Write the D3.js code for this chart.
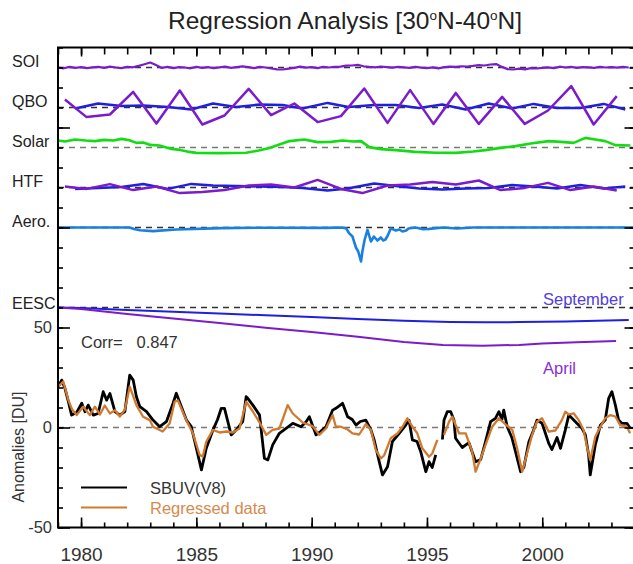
<!DOCTYPE html>
<html>
<head>
<meta charset="utf-8">
<script src="https://cdn.jsdelivr.net/npm/d3@7"></script>
<style>
body { margin: 0; background: #fff; }
text { font-family: "Liberation Sans", Arial, Helvetica, sans-serif; }
</style>
</head>
<body>
<svg id="chart" width="633" height="564"></svg>
<script>
// fitted terms are stored as deviations from their panel baseline (DU)
const soiStart = 1979, soiStep = 0.25;
const soiValues = [
  0, -0.4, 0.3, -0.2,   0.2, -0.3, 0.1, 0.3,   -0.2, 0.4, 0, -0.3,   0.3, 0.1, 0.8, 1.6,
  2.5, 1.2, -0.2, 0.3,  -0.3, 0.2, 0, -0.4,    0.3, -0.2, 0.2, -0.3,  0.1, 0.4, -0.2, 0.2,
  0.6, 0.2, -0.3, 0.3,  0, -0.5, -0.9, -1.0,   -0.6, -0.2, 0.4, -0.1, 0.2, -0.3, 0.3, 0,
  0.3, 0.4, 0.9, 1.0,   1.3, 0.6, 0.3, 0.1,    0.5, 0.2, -0.1, 0.3,   0.1, -0.2, 0.3, -0.1,
  -0.3, 0.1, -0.4, 0.2, 0.4, 0.3, 0.6, 0.5,    0.8, 1.2, 1.0, 1.5,    1.7, 0.3, -0.8, -1.0,
  -0.6, -0.9, -0.3, -0.5, -0.2, 0.1, -0.3, 0.4, 0, 0.3, -0.2, 0.2,   0.1, -0.2, 0.3, 0,
  0.2, -0.1, 0.3, 0
];

const qboApr = [[1979.3,4],[1980.24,-4.8],[1981.25,-3.5],[1982.26,7.8],[1983.27,-8],[1984.28,8.5],
  [1985.26,-8.5],[1986.22,-4],[1987.27,9.3],[1988.24,-3.8],[1989.25,2],[1990.26,-7.3],[1991.27,-4.3],
  [1992.28,9.5],[1993.29,-7.7],[1994.27,8.7],[1995.28,-8.2],[1996.25,7.3],[1997.25,-8.2],[1998.26,5.3],
  [1999.24,-8.2],[2000.25,-1.5],[2001.26,10.7],[2002.23,-8.5],[2003.23,5.7]];
const qboSep = [[1979.74,-0.5],[1980.74,2],[1981.75,0.7],[1982.7,1],[1983.77,0.3],[1984.78,-1],
  [1985.72,2],[1986.73,0.2],[1987.74,1.5],[1988.74,1.2],[1989.6,-0.5],[1990.69,2.3],[1991.6,0.2],
  [1992.71,1.2],[1993.65,1.2],[1994.66,-0.2],[1995.66,1.5],[1996.68,-1],[1997.68,2],[1998.69,-0.5],
  [1999.63,1.8],[2000.64,-0.2],[2001.65,-0.2],[2002.66,1.8],[2003.6,-1]];

const solar = [[1979.0,3.5],[1979.3,3.0],[1979.74,4],[1980.2,3.5],[1980.6,3.2],[1981.0,3.8],[1981.4,3.5],
  [1981.76,4.3],[1982.1,3.6],[1982.4,2.3],[1982.7,2.5],[1983.0,1.3],[1983.4,1.0],[1983.92,-0.7],
  [1984.3,-1.2],[1984.7,-2.2],[1985.0,-2.7],[1986.0,-2.8],[1987.16,-2.6],[1987.7,-1.5],[1988.17,-0.2],
  [1988.6,1.5],[1989.04,3.2],[1989.68,4],[1990.26,2.7],[1990.84,2.8],[1991.34,3.5],[1991.8,3.0],
  [1992.14,3.2],[1992.5,0.2],[1993.0,-0.8],[1993.65,-1.3],[1994.5,-2.2],[1995.4,-2.6],[1996.25,-2.7],
  [1997.0,-2.0],[1997.54,-1.3],[1998.2,-0.2],[1998.84,0.7],[1999.5,2.0],[2000.28,3.2],[2000.8,2.8],
  [2001.36,2.3],[2001.87,4.8],[2002.3,4.0],[2002.73,3.2],[2003.17,1.2],[2003.82,1.0]];

const htfApr = [[1979.3,0.5],[1980.24,-0.7],[1981.25,1.7],[1982.26,-1.3],[1983.27,0.5],[1984.28,-2.8],
  [1985.26,-2.2],[1986.22,-1.3],[1987.27,1],[1988.24,1.5],[1989.25,0],[1990.26,3.8],[1991.27,-0.7],
  [1992.2,-2.8],[1993.29,1],[1994.27,1.5],[1995.23,2.7],[1996.25,1.5],[1997.25,3.5],[1998.19,-1.3],
  [1999.24,-0.2],[2000.25,2.3],[2001.22,-1.3],[2002.23,0.5],[2003.23,-1.5]];
const htfSep = [[1979.74,-0.7],[1980.74,-0.2],[1981.75,0.3],[1982.7,1.8],[1983.77,-0.7],[1984.78,1.8],
  [1985.72,1],[1986.73,0.8],[1987.74,0.5],[1988.74,0.3],[1989.6,-0.3],[1990.69,-1.5],[1991.56,-0.5],
  [1992.71,2],[1993.65,0.8],[1994.66,-0.5],[1995.66,-1],[1996.68,-0.5],[1997.68,-0.2],[1998.69,1.3],
  [1999.63,0.5],[2000.64,-0.5],[2001.65,1.3],[2002.66,-0.5],[2003.6,0.5]];

const aerosol = [[1979.0,0],[1982.1,0],[1982.3,-0.8],[1982.55,-1.4],[1983.12,-1.8],[1984.13,-1.0],
  [1986.1,-0.3],[1988.0,-0.1],[1990.6,-0.2],[1991.33,0],[1991.5,-0.5],[1991.62,-2.8],[1991.77,-4.5],
  [1991.92,-10],[1992.02,-12],[1992.14,-17],[1992.2,-12],[1992.3,-6],[1992.42,-1.2],[1992.57,-7],
  [1992.7,-4.5],[1992.85,-6.5],[1993.0,-5],[1993.1,-6.5],[1993.2,-6],[1993.3,-4],[1993.43,-0.5],
  [1993.55,-1],[1993.65,-1.5],[1993.8,-1],[1993.94,-2],[1994.1,-1.5],[1994.2,-0.5],[1994.5,0],
  [1994.8,-0.8],[1995.1,-0.7],[1995.4,-0.3],[1995.7,0],[1996.3,-0.5],[1997.0,0],[2004,0]];

const eescSep = [[1979.0,0],[1980,-0.3],[1982,-1.2],[1984,-2.1],[1986,-3.0],[1988,-3.9],[1990,-4.8],
  [1992,-5.8],[1994,-6.6],[1996,-7.2],[1997.5,-7.4],[1999,-7.3],[2001,-7.0],[2003.75,-6.3]];
const eescApr = [[1979.0,0],[1980,-0.8],[1982,-3.2],[1984,-5.5],[1986,-7.8],[1988,-10.1],[1990,-12.3],
  [1992,-14.6],[1994,-17.3],[1995.7,-18.7],[1997.4,-19.1],[1999,-18.7],[2000,-18.0],[2001.5,-17.4],
  [2003.2,-16.75]];

// total ozone anomalies (DU); null marks the data gap in 1995
const sbuv = [[1979.01,20.4],[1979.16,23.7],[1979.30,19.6],[1979.45,12.9],[1979.59,6.2],[1979.81,7.5],
  [1980.03,12.1],[1980.17,7.9],[1980.31,11.2],[1980.53,6.2],[1980.74,7],[1980.96,17.9],[1981.11,13.7],
  [1981.25,17],[1981.47,7.9],[1981.68,6.2],[1981.90,8],[1982.11,26.2],[1982.26,23.7],[1982.40,15.4],
  [1982.55,10.4],[1982.84,7.9],[1983.12,3.7],[1983.41,0.4],[1983.70,2.9],[1983.99,12.1],[1984.13,17.1],
  [1984.35,10.4],[1984.57,3.7],[1984.78,0.4],[1985.00,-10.4],[1985.22,-21.2],[1985.43,-10.4],
  [1985.72,-1.2],[1985.92,4],[1986.08,9.6],[1986.22,9.6],[1986.51,-3.7],[1986.74,-1],[1987.01,2.9],
  [1987.16,15.4],[1987.23,14.6],[1987.45,11.2],[1987.74,6.2],[1987.95,-15.4],[1988.10,-16.2],
  [1988.31,-8.7],[1988.60,-2.9],[1988.89,-0.4],[1989.18,2.1],[1989.54,0.4],[1989.76,2.9],[1989.90,5.4],
  [1990.19,-3.7],[1990.38,-2],[1990.62,0.4],[1990.91,8.7],[1991.05,9.6],[1991.34,12.1],[1991.56,5.4],
  [1991.76,4],[1991.92,1.2],[1992.11,3],[1992.35,3.7],[1992.57,-1.2],[1992.71,-6.2],[1992.93,-17.1],
  [1993.07,-23.7],[1993.29,-19.6],[1993.50,-7.1],[1993.79,-3],[1994.08,1.2],[1994.22,3.7],[1994.37,-6.2],
  [1994.57,-7],[1994.73,-12.1],[1994.95,-22.1],[1995.09,-17.1],[1995.23,-20],[1995.38,-13.7],
  [1995.55,null],[1995.67,-6],[1995.74,3.7],[1995.88,7.9],[1996.03,7.9],[1996.17,3.7],[1996.24,-5.4],
  [1996.53,-10],[1996.82,-7.6],[1997.11,-17.1],[1997.33,-16],[1997.54,-7.1],[1997.76,2.9],[1997.97,4.6],
  [1998.12,7.9],[1998.25,4],[1998.33,8.7],[1998.48,0.4],[1998.68,-5],[1998.84,-12.1],[1999.06,-22.1],
  [1999.20,-20],[1999.42,-7.1],[1999.63,-1.2],[1999.77,3.7],[1999.99,2.1],[2000.28,-7.9],[2000.42,-11],
  [2000.64,-5],[2000.79,-10.4],[2001.00,-1.2],[2001.15,6.2],[2001.29,4.6],[2001.50,2.1],[2001.72,-0.4],
  [2001.87,-3.7],[2002.01,-13.7],[2002.08,-23.7],[2002.30,-8.7],[2002.52,1.2],[2002.73,3.7],
  [2002.88,14.6],[2003.02,17.9],[2003.17,11.2],[2003.31,3.7],[2003.45,2.1],[2003.67,2.1],[2003.81,-0.4]];
const regressed = [[1979.01,20.4],[1979.23,23],[1979.45,13.7],[1979.61,9],[1979.81,6.2],[1980.09,10.4],
  [1980.38,6.2],[1980.60,10.4],[1980.82,6.5],[1981.03,11],[1981.25,7],[1981.47,8.7],[1981.68,5.5],
  [1981.90,9],[1982.11,20.4],[1982.40,11.2],[1982.69,5.4],[1982.98,3.7],[1983.12,0.4],[1983.54,-2],
  [1983.84,2],[1984.06,12.9],[1984.20,13.5],[1984.35,9.5],[1984.57,3.5],[1984.85,-2.9],[1985.14,-13.7],
  [1985.28,-14.5],[1985.43,-7.1],[1985.72,-1.2],[1986.01,-2.5],[1986.30,-2],[1986.58,-2.5],
  [1986.87,-0.5],[1987.16,12.9],[1987.45,8],[1987.74,2.5],[1988.03,-3.7],[1988.31,-1.2],[1988.60,-0.5],
  [1988.96,11.2],[1989.18,7],[1989.61,2.5],[1990.04,0.7],[1990.33,-3.7],[1990.62,-0.5],[1990.91,6.2],
  [1991.05,0.4],[1991.27,0.4],[1991.56,-1],[1991.77,-2.9],[1992.06,-3.5],[1992.35,1.7],[1992.57,-1.2],
  [1992.78,-11.2],[1993.00,-15.4],[1993.14,-14],[1993.43,-5.4],[1993.72,-3],[1993.94,0.4],[1994.15,4.6],
  [1994.37,0.4],[1994.58,-2.9],[1994.80,-10.4],[1995.09,-14.6],[1995.23,-13],[1995.45,-6.2],
  [1995.6,null],[1995.74,-3.7],[1995.96,2.9],[1996.10,5.4],[1996.39,-2.9],[1996.68,-2.9],[1996.96,-12.1],
  [1997.11,-22.1],[1997.33,-15.5],[1997.54,-8.7],[1997.83,0.4],[1998.12,4.6],[1998.41,1.5],
  [1998.70,-1.2],[1998.91,-10.4],[1999.13,-22.1],[1999.34,-13],[1999.56,-3.7],[1999.77,2.9],
  [1999.99,4.6],[2000.28,-2.1],[2000.57,-1.5],[2000.85,3.7],[2001.00,7.9],[2001.15,6.5],[2001.36,7.1],
  [2001.58,3.7],[2001.79,-1.2],[2001.94,-9.6],[2002.08,-16.2],[2002.30,-4.6],[2002.52,0.4],
  [2002.73,4.6],[2002.95,6.2],[2003.17,5.5],[2003.38,1.2],[2003.67,0.4],[2003.81,-2.9]];

const panelNames = ['SOI', 'QBO', 'Solar', 'HTF', 'Aero.', 'EESC'];
const panelBase = [180, 160, 140, 120, 100, 60];
const corrValue = 0.847;
const yearTicks = [1980, 1985, 1990, 1995, 2000];
const duTicks = [-50, 0, 50];

const svg = d3.select('#chart');
const plotLeft = 58, plotRight = 634.5, plotTop = 47.5, plotBottom = 527.5;
const x = d3.scaleLinear().domain([1979, 2004]).range([plotLeft, plotRight]);
const y = d3.scaleLinear().domain([-50, 190]).range([plotBottom, plotTop]);

const purple = '#7a1ccc', blue = '#1f1fe0', green = '#12dc12', aeroBlue = '#1a80e0', orange = '#cf7a30';

svg.append('defs').append('clipPath').attr('id', 'plotclip')
  .append('rect').attr('x', plotLeft).attr('y', plotTop)
  .attr('width', plotRight - plotLeft).attr('height', plotBottom - plotTop);

const plot = svg.append('g').attr('clip-path', 'url(#plotclip)');

// dashed baselines
plot.selectAll('line.base')
  .data(panelBase.concat([0]))
  .enter().append('line')
  .attr('class', 'base')
  .attr('x1', plotLeft).attr('x2', plotRight)
  .attr('y1', d => y(d)).attr('y2', d => y(d))
  .attr('stroke', d => d === 0 || d === 140 ? '#777' : '#333')
  .attr('stroke-width', 1.3)
  .attr('stroke-dasharray', '6,5');

function drawSeries(pairs, base, color, width) {
  const line = d3.line()
    .defined(d => d[1] != null)
    .x(d => x(d[0]))
    .y(d => y(base + d[1]));
  plot.append('path')
    .datum(pairs)
    .attr('d', line)
    .attr('fill', 'none')
    .attr('stroke', color)
    .attr('stroke-width', width)
    .attr('stroke-linejoin', 'round');
}

const soiPairs = soiValues.map((v, i) => [soiStart + i * soiStep, v]);
drawSeries(soiPairs, panelBase[0], purple, 2.2);
drawSeries(qboSep, panelBase[1], blue, 2.5);
drawSeries(qboApr, panelBase[1], purple, 2.5);
drawSeries(solar, panelBase[2], green, 2.6);
drawSeries(htfSep, panelBase[3], blue, 2.5);
drawSeries(htfApr, panelBase[3], purple, 2.5);
drawSeries(aerosol, panelBase[4], aeroBlue, 2.6);
drawSeries(eescSep, panelBase[5], blue, 2);
drawSeries(eescApr, panelBase[5], purple, 2);
drawSeries(sbuv, 0, '#000', 2.8);
drawSeries(regressed, 0, orange, 2.3);

// axes: minor and major ticks pointing inward
function styleAxis(g) {
  g.select('.domain').remove();
  g.selectAll('line').attr('stroke', '#000').attr('stroke-width', 1.6);
  g.selectAll('text').attr('fill', '#333').attr('font-family', '"Liberation Sans", Arial, sans-serif');
}
const minorYears = d3.range(1979, 2005);
const minorDU = d3.range(-50, 191, 10);
const majorDU = d3.range(-50, 191, 50);

svg.append('g').attr('transform', `translate(0,${plotBottom})`)
  .call(d3.axisBottom(x).tickValues(minorYears).tickSizeInner(-5).tickSizeOuter(0).tickFormat(''))
  .call(styleAxis);
svg.append('g').attr('transform', `translate(0,${plotBottom})`)
  .call(d3.axisBottom(x).tickValues(yearTicks).tickSizeInner(-10).tickSizeOuter(0).tickPadding(20).tickFormat(d3.format('d')))
  .call(styleAxis)
  .selectAll('text').attr('font-size', 19);

svg.append('g').attr('transform', `translate(0,${plotTop})`)
  .call(d3.axisTop(x).tickValues(minorYears).tickSizeInner(-7).tickSizeOuter(0).tickFormat(''))
  .call(styleAxis);
svg.append('g').attr('transform', `translate(0,${plotTop})`)
  .call(d3.axisTop(x).tickValues(yearTicks).tickSizeInner(-9).tickSizeOuter(0).tickFormat(''))
  .call(styleAxis);

svg.append('g').attr('transform', `translate(${plotLeft},0)`)
  .call(d3.axisLeft(y).tickValues(minorDU).tickSizeInner(-5).tickSizeOuter(0).tickFormat(''))
  .call(styleAxis);
svg.append('g').attr('transform', `translate(${plotLeft},0)`)
  .call(d3.axisLeft(y).tickValues(majorDU).tickSizeInner(-12).tickSizeOuter(0).tickPadding(6)
    .tickFormat(d => duTicks.includes(d) ? String(d) : ''))
  .call(styleAxis)
  .selectAll('text').attr('font-size', 16.5);

svg.append('g').attr('transform', `translate(${plotRight},0)`)
  .call(d3.axisRight(y).tickValues(minorDU).tickSizeInner(-5).tickSizeOuter(0).tickFormat(''))
  .call(styleAxis);
svg.append('g').attr('transform', `translate(${plotRight},0)`)
  .call(d3.axisRight(y).tickValues(majorDU).tickSizeInner(-10).tickSizeOuter(0).tickFormat(''))
  .call(styleAxis);

// frame
svg.append('path')
  .attr('d', `M${plotRight},${plotTop}H${plotLeft}V${plotBottom}H${plotRight}`)
  .attr('fill', 'none').attr('stroke', '#000').attr('stroke-width', 2);

// panel labels
svg.selectAll('text.panel')
  .data(panelNames)
  .enter().append('text')
  .attr('class', 'panel')
  .attr('x', 12)
  .attr('y', (d, i) => y(panelBase[i]) + (i === 5 ? 1 : -1))
  .attr('font-size', 16)
  .attr('fill', '#222')
  .text(d => d);

// title
const title = svg.append('text')
  .attr('x', 345).attr('y', 29)
  .attr('text-anchor', 'middle')
  .attr('font-size', 24.5)
  .attr('fill', '#222');
title.append('tspan').text('Regression Analysis [30');
title.append('tspan').attr('dy', -9.5).attr('font-size', 13.5).text('o');
title.append('tspan').attr('dy', 9.5).text('N-40');
title.append('tspan').attr('dy', -9.5).attr('font-size', 13.5).text('o');
title.append('tspan').attr('dy', 9.5).text('N]');

// y title
svg.append('text')
  .attr('transform', 'translate(24,447) rotate(-90)')
  .attr('text-anchor', 'middle')
  .attr('font-size', 16)
  .attr('fill', '#333')
  .text('Anomalies [DU]');

// correlation
svg.append('text')
  .attr('x', 81).attr('y', 348)
  .attr('font-size', 16.5)
  .attr('fill', '#333')
  .attr('xml:space', 'preserve')
  .style('white-space', 'pre')
  .text('Corr=   ' + corrValue.toFixed(3));

// EESC month labels
svg.append('text').attr('x', 543).attr('y', 305).attr('font-size', 16.5)
  .attr('fill', '#5040dc').text('September');
svg.append('text').attr('x', 543).attr('y', 374).attr('font-size', 16.5)
  .attr('fill', '#8a2ed8').text('April');

// legend
const legend = [
  { label: 'SBUV(V8)', color: '#000', text: '#333', yPos: 487.5 },
  { label: 'Regressed data', color: orange, text: '#d68a4e', yPos: 507.5 }
];
const lg = svg.selectAll('g.legend').data(legend).enter().append('g').attr('class', 'legend');
lg.append('line')
  .attr('x1', 81).attr('x2', 127)
  .attr('y1', d => d.yPos).attr('y2', d => d.yPos)
  .attr('stroke', d => d.color).attr('stroke-width', 2);
lg.append('text')
  .attr('x', 150).attr('y', d => d.yPos + 6)
  .attr('font-size', 16.5)
  .attr('fill', d => d.text)
  .text(d => d.label);
</script>
</body>
</html>
